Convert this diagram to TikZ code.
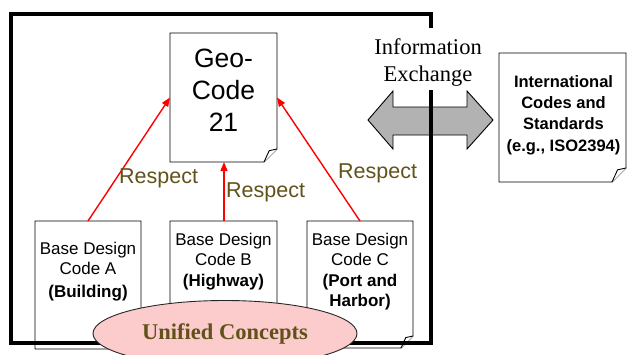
\documentclass[tikz,border=0pt]{standalone}
\usepackage{fontspec}
\setmainfont{Liberation Serif}
\setsansfont{Liberation Sans}
\usetikzlibrary{arrows.meta,shapes.geometric}
\definecolor{respcol}{RGB}{96,82,26}
\definecolor{ucpink}{RGB}{252,204,204}
\definecolor{arrgray}{RGB}{178,178,178}
\newcommand{\docoutline}[2]{%
  \filldraw[docline] (#1.north west) -- (#1.north east) -- ([yshift=#2pt]#1.south east) -- ([xshift=-#2pt]#1.south east) -- (#1.south west) -- cycle;
  \draw[docline] ([yshift=#2pt]#1.south east) -- ([xshift=-0.6*#2pt, yshift=0.87*#2pt]#1.south east) -- ([xshift=-#2pt]#1.south east);
}
\begin{document}
\begin{tikzpicture}[x=1pt,y=-1pt,
  docnode/.style={rectangle, inner sep=0pt, outer sep=0pt},
  docline/.style={draw=black, line width=0.9pt, fill=white, line join=miter},
  frameline/.style={line width=4pt, line join=miter},
  redarr/.style={draw=red, line width=1.4pt, -{Triangle[length=9pt,width=7pt]}},
  resp/.style={font=\sffamily\fontsize{21.5}{25}\selectfont, text=respcol, inner sep=0pt, anchor=base west},
  basetxt/.style={font=\sffamily\fontsize{17}{20.5}\selectfont, align=center, inner sep=0pt, anchor=north},
]
\useasboundingbox (0,0) rectangle (627,354);

% base design code documents
\node[docnode, minimum width=106pt, minimum height=128pt] (A) at (88,285) {};
\node[docnode, minimum width=107pt, minimum height=128pt] (B) at (223.5,285) {};
\node[docnode, minimum width=106pt, minimum height=127pt] (C) at (360,284.5) {};
\docoutline{A}{12}
\docoutline{B}{12}
\docoutline{C}{12}
\node[basetxt] (At) at (88,241.8) {Base Design\\Code A\\[2pt]\textbf{(Building)}};
\node[basetxt] (Bt) at (223.5,232.8) {Base Design\\Code B\\\textbf{(Highway)}};
\node[basetxt] (Ct) at (360,232.8) {Base Design\\Code C\\\textbf{(Port and}\\\textbf{Harbor)}};

% Geo-Code 21
\node[docnode, minimum width=107pt, minimum height=129pt] (geo) at (223.5,97.5) {};
\docoutline{geo}{13}
\node[font=\sffamily\fontsize{26.5}{32}\selectfont, align=center, inner sep=0pt, anchor=north] (geot) at (223.5,49) {Geo-\\Code\\21};

% respect arrows
\draw[redarr] (A.north) -- (geo.west);
\draw[redarr] ([xshift=0.5pt]B.north) -- ([xshift=0.5pt]geo.south);
\draw[redarr] (C.north) -- (geo.east);
\node[resp] (r1) at (119,183) {Respect};
\node[resp] (r2) at (226,197) {Respect};
\node[resp] (r3) at (338,178) {Respect};

% information exchange arrow
\filldraw[fill=arrgray, draw=black, line width=0.9pt, line join=miter]
  (368,120) -- (393,91) -- (393,107) -- (467,107) -- (467,91) -- (493,120)
  -- (467,149) -- (467,135) -- (393,135) -- (393,149) -- cycle;

% frame
\draw[frameline] (431,28) -- (431,13.5) -- (11,13.5) -- (11,343) -- (431,343) -- (431,90);

% unified concepts
\node[ellipse, draw=black!85, line width=0.9pt, fill=ucpink, minimum width=264pt, minimum height=66pt,
  font=\bfseries\fontsize{22.5}{26}\selectfont, text=respcol] (uc) at (225,333.5) {Unified Concepts};

% information exchange text
\node[font=\fontsize{22.5}{27}\selectfont, align=center, inner sep=0pt, anchor=north] (ie) at (428,38.6) {Information\\Exchange};

% international codes
\node[docnode, minimum width=127pt, minimum height=129pt] (I) at (562.5,117.5) {};
\docoutline{I}{14}
\node[font=\sffamily\bfseries\fontsize{16.5}{21.3}\selectfont, align=center, inner sep=0pt, anchor=north] (It) at (563.5,75.2) {International\\Codes and\\Standards\\(e.g., ISO2394)};
\end{tikzpicture}
\end{document}
